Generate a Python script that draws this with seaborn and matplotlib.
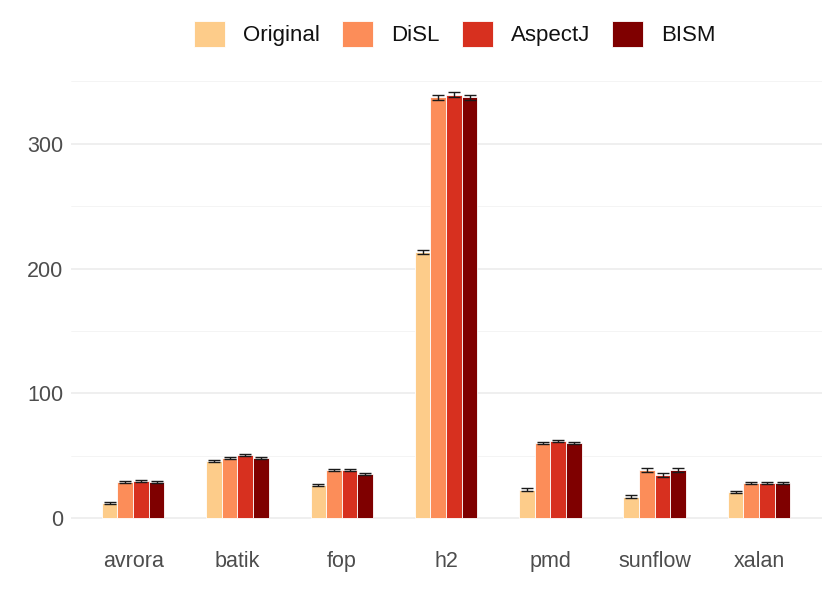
import matplotlib
matplotlib.use("Agg")
import matplotlib.pyplot as plt
from matplotlib.container import BarContainer
import seaborn as sns
import pandas as pd
import numpy as np

benchmarks = ["avrora", "batik", "fop", "h2", "pmd", "sunflow", "xalan"]
tools = ["Original", "DiSL", "AspectJ", "BISM"]
original = [12, 46, 26.5, 213, 23, 17.5, 21]
disl = [29, 48, 39, 337, 60.5, 38.5, 28.5]
aspectj = [30, 50.5, 38.5, 339, 62, 34.5, 28.5]
bism = [29, 48, 35.5, 337, 60.5, 38.5, 28.5]
err_original = [0.8, 0.8, 0.8, 1.5, 1.0, 1.5, 1.0]
err_disl = [0.8, 0.8, 0.8, 2.0, 0.8, 1.5, 0.8]
err_aspectj = [0.8, 0.8, 0.8, 2.0, 0.8, 1.5, 1.0]
err_bism = [0.8, 0.8, 0.8, 2.0, 0.8, 1.5, 0.8]
colors = ["#FDCC8A", "#FC8D59", "#D7301F", "#7F0000"]

vals = [original, disl, aspectj, bism]
errs = [err_original, err_disl, err_aspectj, err_bism]
rows = []
for t, v, e in zip(tools, vals, errs):
    for b, vv, ee in zip(benchmarks, v, e):
        rows.append({"benchmark": b, "tool": t, "time": vv, "err": ee})
df = pd.DataFrame(rows)

sns.set_theme(style="whitegrid")
plt.rcParams["font.family"] = ["Liberation Sans", "DejaVu Sans"]

fig = plt.figure(figsize=(8.3, 5.93), dpi=100)
ax = fig.add_axes([0.085, 0.09, 0.905, 0.79])

sns.barplot(data=df, x="benchmark", y="time", hue="tool", order=benchmarks,
            hue_order=tools, palette=colors, saturation=1, width=0.6, errorbar=None,
            edgecolor="#FFFFFF", linewidth=0.6, ax=ax, legend=True)

bar_conts = [c for c in ax.containers if isinstance(c, BarContainer)]
for t_i, cont in enumerate(bar_conts):
    for b_i, patch in enumerate(cont.patches):
        x = patch.get_x() + patch.get_width() / 2
        ax.errorbar(x, vals[t_i][b_i], yerr=errs[t_i][b_i], fmt="none",
                    ecolor="#1A1A1A", elinewidth=1.0, capsize=4, capthick=1.0, zorder=5)

ax.set_ylim(-17, 358)
ax.set_xlim(-0.6, 6.6)
ax.set_yticks([0, 100, 200, 300])
ax.set_yticks([50, 150, 250, 350], minor=True)
ax.grid(True, axis="y", which="major", color="#EBEBEB", linewidth=1.1)
ax.grid(True, axis="y", which="minor", color="#F3F3F3", linewidth=0.6)
ax.grid(False, axis="x")
ax.set_axisbelow(True)
for s in ax.spines.values():
    s.set_visible(False)
ax.set_xlabel("")
ax.set_ylabel("")
ax.tick_params(axis="x", which="both", length=0, labelsize=15.5, labelcolor="#4D4D4D", pad=8)
ax.tick_params(axis="y", which="both", length=0, labelsize=15.5, labelcolor="#4D4D4D", pad=5)
ax.set_facecolor("white")

handles, labels = ax.get_legend_handles_labels()
ax.legend_.remove()
fig.legend(handles, labels, loc="upper center", bbox_to_anchor=(0.548, 0.998), ncol=4,
           frameon=False, fontsize=16, handlelength=1.4, handleheight=1.4,
           handletextpad=0.8, columnspacing=1.0, labelcolor="#111111")

fig.savefig("out.png", dpi=100, facecolor="white")
